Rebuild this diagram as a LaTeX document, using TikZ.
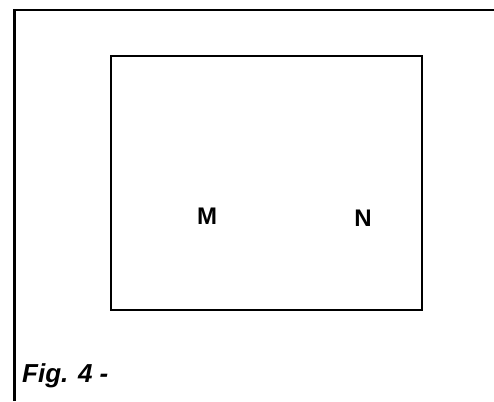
\documentclass[tikz,border=0pt]{standalone}
\usepackage{fontspec}
\setmainfont{Liberation Sans}
\begin{document}
\begin{tikzpicture}[x=1pt,y=1pt,
  lbl/.style={font=\fontsize{24}{28}\selectfont\bfseries, inner sep=0pt, anchor=base},
  figcap/.style={font=\fontsize{26}{30}\selectfont\bfseries\itshape, inner sep=0pt, anchor=base west}]
\useasboundingbox (0,0) rectangle (494,401);
\coordinate (tl) at (14.5,391);
\coordinate (tr) at (494,391);
\coordinate (bl) at (14.5,0);
\draw[line width=2.6pt] (tr) -- (tl) -- (bl);
\node[draw, line width=1.6pt, minimum width=311pt, minimum height=254pt, inner sep=0pt, anchor=south west] (box) at (110,90) {};
\node[lbl] (m) at (207,176) {M};
\node[lbl] (n) at (363,174) {N};
\node[figcap] (fig) at (22,19) {Fig. 4 -};
\end{tikzpicture}
\end{document}
